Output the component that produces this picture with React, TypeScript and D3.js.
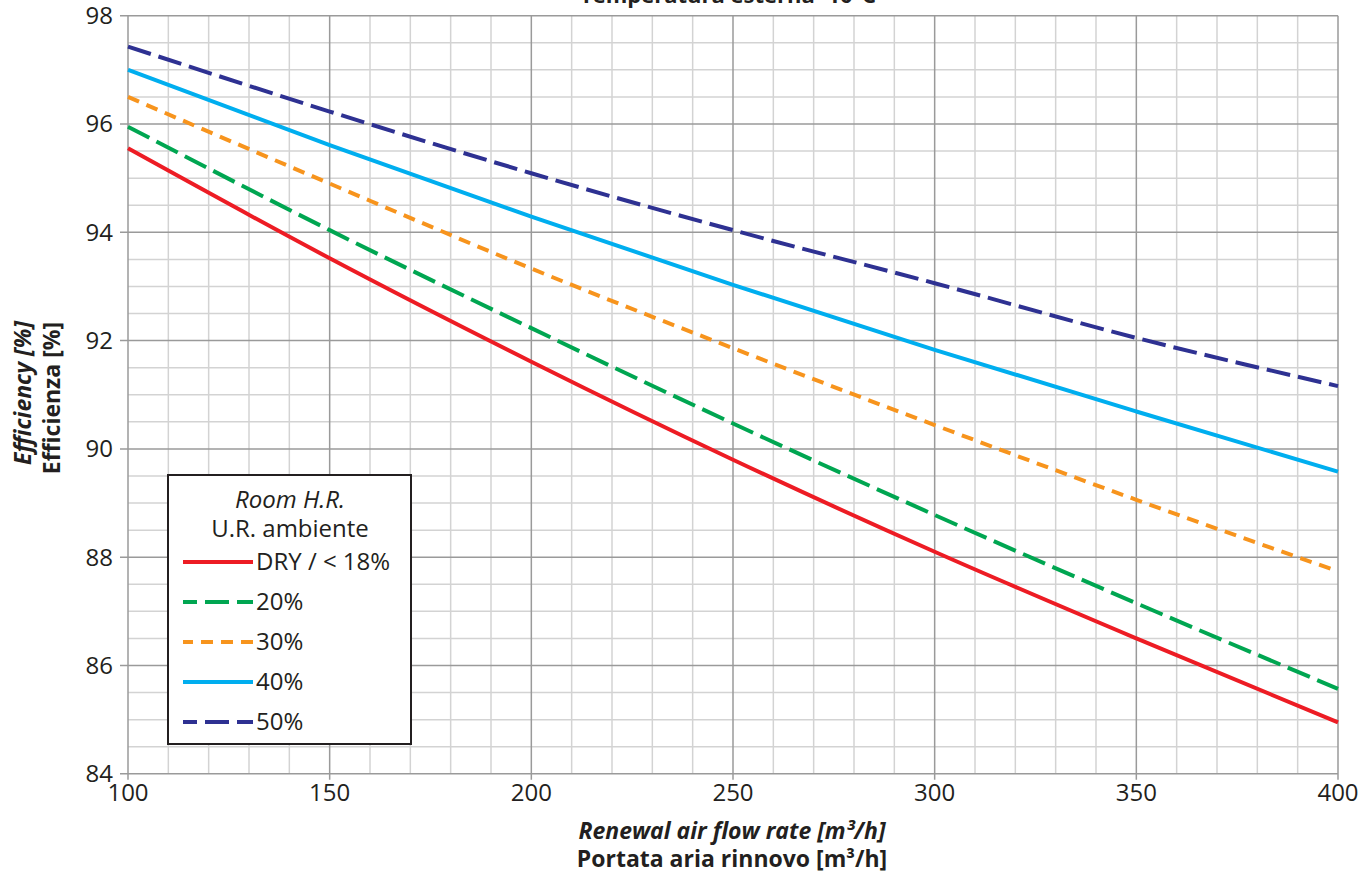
import React from "react";
import * as d3 from "d3";

const flowRates = [100, 150, 200, 250, 300, 350, 400];
const dry = [95.55, 93.52, 91.61, 89.8, 88.1, 86.5, 84.95];
const rh20 = [95.95, 94.04, 92.23, 90.47, 88.78, 87.15, 85.57];
const rh30 = [96.5, 94.9, 93.33, 91.86, 90.44, 89.06, 87.74];
const rh40 = [97.0, 95.61, 94.29, 93.03, 91.83, 90.69, 89.58];
const rh50 = [97.43, 96.23, 95.09, 94.04, 93.06, 92.05, 91.16];
const seriesLabels = ["DRY / < 18%", "20%", "30%", "40%", "50%"];
const xTicks = [100, 150, 200, 250, 300, 350, 400];
const yTicks = [84, 86, 88, 90, 92, 94, 96, 98];

const W = 1359;
const H = 877;
const FONT = "'Open Sans', 'Noto Sans', sans-serif";

const styles = [
  { color: "#ED1C24", dash: "none", offset: 0 },
  { color: "#00A651", dash: "24 8", offset: 10 },
  { color: "#F7941D", dash: "12 8", offset: 2 },
  { color: "#00AEEF", dash: "none", offset: 0 },
  { color: "#2E3192", dash: "24 8", offset: 10 },
];

export default function App() {
  const x = d3.scaleLinear().domain([100, 400]).range([128, 1338]);
  const y = d3.scaleLinear().domain([84, 98]).range([773.8, 15.7]);
  const allSeries = [dry, rh20, rh30, rh40, rh50];
  const line = d3
    .line<number>()
    .x((_, i) => x(flowRates[i]))
    .y((d) => y(d))
    .curve(d3.curveMonotoneX);

  const minorX = d3.range(100, 401, 10).filter((v) => v % 50 !== 0);
  const minorY = d3.range(84, 98.01, 0.5).filter((v) => Math.abs(v % 2) > 0.01);

  const legX = 168;
  const legY = 475;
  const legW = 243;
  const legH = 269;
  const rowY = [562, 602, 642, 682, 722];

  return (
    <svg
      width={W}
      height={H}
      style={{ position: "absolute", left: 0, top: 0, background: "#fff" }}
      fontFamily={FONT}
    >
      <rect x={0} y={0} width={W} height={H} fill="#fff" />
      {/* minor grid */}
      {minorX.map((v) => (
        <line key={"mx" + v} x1={x(v)} x2={x(v)} y1={y(98)} y2={y(84)} stroke="#d3d3d3" strokeWidth={1.5} />
      ))}
      {minorY.map((v) => (
        <line key={"my" + v} x1={x(100)} x2={x(400)} y1={y(v)} y2={y(v)} stroke="#d3d3d3" strokeWidth={1.5} />
      ))}
      {/* major grid */}
      {xTicks.map((v) => (
        <line key={"Mx" + v} x1={x(v)} x2={x(v)} y1={y(98)} y2={y(84) + 6} stroke="#9a9a9a" strokeWidth={1.5} />
      ))}
      {yTicks.map((v) => (
        <line key={"My" + v} x1={x(100) - 8} x2={x(400)} y1={y(v)} y2={y(v)} stroke="#9a9a9a" strokeWidth={1.5} />
      ))}
      {/* tick labels */}
      {xTicks.map((v) => (
        <text key={"xt" + v} x={x(v)} y={801} textAnchor="middle" fontSize={24} fill="#231f20">
          {v}
        </text>
      ))}
      {yTicks.map((v) => (
        <text key={"yt" + v} x={113} y={y(v)} dy="0.35em" textAnchor="end" fontSize={24} fill="#231f20">
          {v}
        </text>
      ))}
      {/* series */}
      {allSeries.map((s, i) => (
        <path
          key={"s" + i}
          d={line(s) || ""}
          fill="none"
          stroke={styles[i].color}
          strokeWidth={4}
          strokeDasharray={styles[i].dash}
        />
      ))}
      {/* legend */}
      <rect x={legX} y={legY} width={legW} height={legH} fill="#fff" stroke="#231f20" strokeWidth={2} />
      <text x={290} y={508} textAnchor="middle" fontSize={24} fontStyle="italic" fill="#231f20">
        Room H.R.
      </text>
      <text x={290} y={537} textAnchor="middle" fontSize={24} fill="#231f20">
        U.R. ambiente
      </text>
      {seriesLabels.map((lab, i) => (
        <g key={"lg" + i}>
          <line
            x1={183}
            x2={253}
            y1={rowY[i]}
            y2={rowY[i]}
            stroke={styles[i].color}
            strokeWidth={4}
            strokeDasharray={styles[i].dash}
            strokeDashoffset={styles[i].offset}
          />
          <text x={256} y={rowY[i]} dy="0.35em" fontSize={24} fill="#231f20">
            {lab}
          </text>
        </g>
      ))}
      {/* titles */}
      <text x={728} y={3} textAnchor="middle" fontSize={22} fontWeight="bold" fill="#231f20">
        Temperatura esterna -10°C
      </text>
      <text x={732} y={839} textAnchor="middle" fontSize={23} fontWeight="bold" fontStyle="italic" fill="#231f20">
        Renewal air flow rate [m³/h]
      </text>
      <text x={732} y={867} textAnchor="middle" fontSize={23} fontWeight="bold" fill="#231f20">
        Portata aria rinnovo [m³/h]
      </text>
      <text
        transform={`translate(31, 393) rotate(-90)`}
        textAnchor="middle"
        fontSize={23}
        fontWeight="bold"
        fontStyle="italic"
        fill="#231f20"
      >
        Efficiency [%]
      </text>
      <text
        transform={`translate(60, 398) rotate(-90)`}
        textAnchor="middle"
        fontSize={23}
        fontWeight="bold"
        fill="#231f20"
      >
        Efficienza [%]
      </text>
    </svg>
  );
}
